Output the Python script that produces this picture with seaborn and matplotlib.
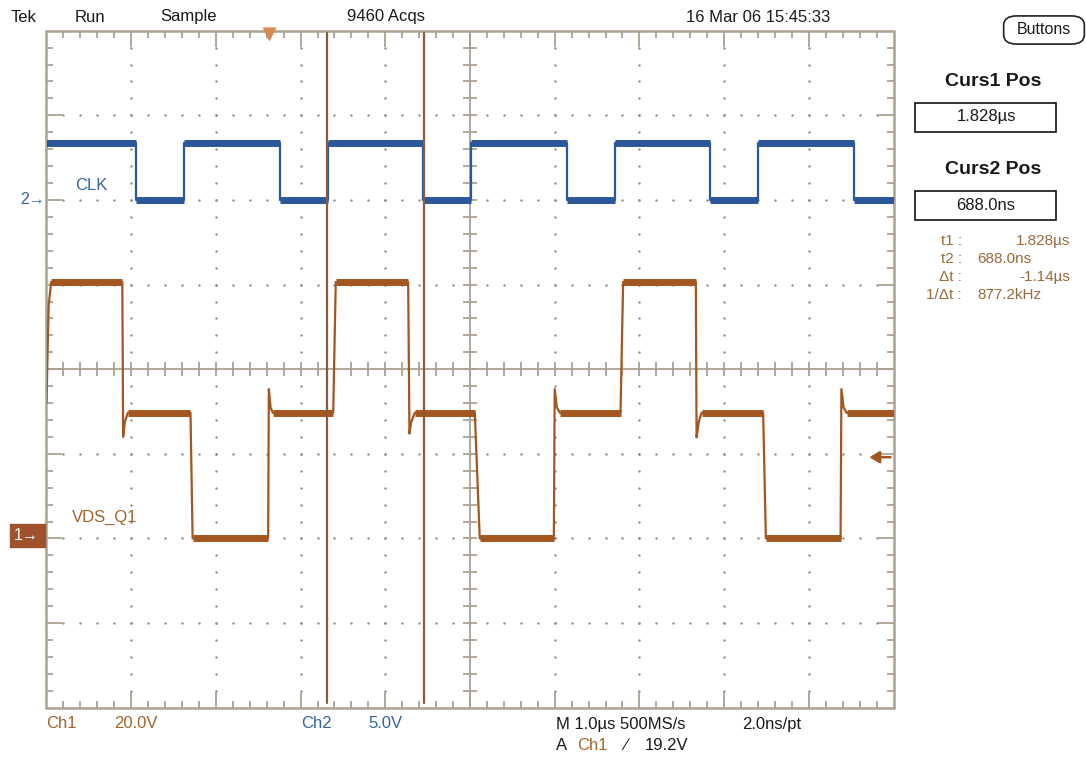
import numpy as np
import pandas as pd
import matplotlib
matplotlib.use("Agg")
import matplotlib.pyplot as plt
import seaborn as sns
from matplotlib.patches import Rectangle, FancyBboxPatch
from matplotlib.collections import LineCollection
from matplotlib import font_manager

# ---------------- data ----------------
# Ch1 : VDS_Q1 trace, time in microseconds relative to trigger, volts
ch1_t_us = [-2.625, -2.60, -2.57,
            -1.730, -1.720, -1.700, -1.665,
            -0.925, -0.900,
            -0.008, 0.000, 0.020, 0.047,
            0.760, 0.790,
            1.645, 1.660, 1.680, 1.724,
            2.432, 2.490,
            3.365, 3.375, 3.400, 3.436,
            4.152, 4.183,
            5.041, 5.050, 5.075, 5.109,
            5.836, 5.868,
            6.750, 6.760, 6.785, 6.821,
            7.375]
ch1_v = [32.0, 55.0, 60.6,
         60.6, 24.0, 27.5, 29.7,
         29.7, 0.0,
         0.0, 35.3, 31.0, 29.7,
         29.7, 60.6,
         60.6, 24.8, 27.5, 29.7,
         29.7, 0.0,
         0.0, 35.3, 31.0, 29.7,
         29.7, 60.6,
         60.6, 23.9, 27.5, 29.7,
         29.7, 0.0,
         0.0, 35.3, 31.0, 29.7,
         29.7]

# Ch2 : CLK trace
clk_t_us = [-2.625, -1.570, -1.570, -0.999, -0.999, 0.130, 0.130, 0.693, 0.693,
            1.822, 1.822, 2.385, 2.385, 3.515, 3.515, 4.085, 4.085, 5.207, 5.207,
            5.770, 5.770, 6.910, 6.910, 7.375]
clk_v = [3.35, 3.35, 0.0, 0.0, 3.35, 3.35, 0.0, 0.0, 3.35,
         3.35, 0.0, 0.0, 3.35, 3.35, 0.0, 0.0, 3.35, 3.35, 0.0,
         0.0, 3.35, 3.35, 0.0, 0.0]

cursor_t_us = [0.688, 1.828]
trigger_level_v = 19.2
ch1_volts_per_div = 20.0
ch2_volts_per_div = 5.0
ch1_ground_div = -2
ch2_ground_div = 2
time_per_div_us = 1.0
screen_left_us = -2.625
n_hdiv = 10
n_vdiv = 8

top_labels = ["Tek", "Run", "Sample", "9460 Acqs", "16 Mar 06 15:45:33"]
meas_labels = ["t1 :", "t2 :", "\u0394t :", "1/\u0394t :"]
meas_values = ["1.828\u00b5s", "688.0ns", "-1.14\u00b5s", "877.2kHz"]

# ---------------- style ----------------
sns.set_theme(style="white")
names = {f.name for f in font_manager.fontManager.ttflist}
base_font = "Liberation Sans" if "Liberation Sans" in names else "DejaVu Sans"
plt.rcParams["font.family"] = [base_font, "DejaVu Sans"]

ORANGE = "#a3561f"
ORANGE_TXT = "#a0642c"
BLUE = "#2b579a"
BLUE_TXT = "#3563a5"
GRAT = "#aaa192"
DOT = "#8c8c8c"
CURSOR = "#8b5a3c"

W, H = 1086, 769
L, R, T, B = 46.5, 893.5, 30.7, 707.7
fig = plt.figure(figsize=(W / 100, H / 100), dpi=100)
fig.patch.set_facecolor("white")
ax = fig.add_axes([L / W, 1 - B / H, (R - L) / W, (B - T) / H])
xmin = screen_left_us
xmax = xmin + n_hdiv * time_per_div_us
ymin, ymax = -n_vdiv / 2, n_vdiv / 2
ax.axis("off")

px_div = (R - L) / n_hdiv  # pixels per division
def p2d(p):
    return p / px_div

# ---------------- graticule ----------------
xc = xmin + n_hdiv / 2 * time_per_div_us
dx, dy = [], []
for k in range(1, n_hdiv):
    xm = xmin + k * time_per_div_us
    if abs(xm - xc) < 1e-9:
        continue
    for j in range(1, n_vdiv * 5):
        dx.append(xm); dy.append(ymin + j * 0.2)
for k in range(1, n_vdiv):
    ym = ymin + k
    if ym == 0:
        continue
    for j in range(1, n_hdiv * 5):
        dx.append(xmin + j * 0.2); dy.append(ym)
ax.scatter(dx, dy, s=3, c=DOT, linewidths=0, zorder=1)

ax.axhline(0, color=GRAT, lw=1.3, zorder=1)
ax.axvline(xc, color=GRAT, lw=1.3, zorder=1)
ax.add_patch(Rectangle((xmin, ymin), xmax - xmin, ymax - ymin, fill=False,
                       ec=GRAT, lw=1.8, zorder=2, clip_on=False))
segs = []
tk = p2d(7)
tkM = p2d(16)
for j in range(1, n_hdiv * 5):
    x = xmin + j * 0.2
    major = (j % 5 == 0)
    segs.append([(x, -tk), (x, tk)])
    ln = tkM if major else tk
    segs.append([(x, ymax), (x, ymax - ln)])
    segs.append([(x, ymin), (x, ymin + ln)])
for j in range(1, n_vdiv * 5):
    y = ymin + j * 0.2
    major = (j % 5 == 0)
    segs.append([(xc - tk, y), (xc + tk, y)])
    ln = tkM if major else tk
    segs.append([(xmin, y), (xmin + ln, y)])
    segs.append([(xmax, y), (xmax - ln, y)])
ax.add_collection(LineCollection(segs, colors=GRAT, linewidths=1.3, zorder=2))

# ---------------- traces ----------------
ax1 = ax.twinx()
ax1.set_ylim((ymin - ch1_ground_div) * ch1_volts_per_div, (ymax - ch1_ground_div) * ch1_volts_per_div)
ax2 = ax.twinx()
ax2.set_ylim((ymin - ch2_ground_div) * ch2_volts_per_div, (ymax - ch2_ground_div) * ch2_volts_per_div)
for a in (ax1, ax2):
    a.axis("off")

df1 = pd.DataFrame({"t": ch1_t_us, "v": ch1_v})
df2 = pd.DataFrame({"t": clk_t_us, "v": clk_v})
sns.lineplot(data=df1, x="t", y="v", ax=ax1, sort=False, estimator=None,
             color=ORANGE, lw=1.6, zorder=3)
sns.lineplot(data=df2, x="t", y="v", ax=ax2, sort=False, estimator=None,
             color=BLUE, lw=1.6, zorder=3)

def flats(ts, vs):
    out = []
    for i in range(len(ts) - 1):
        if vs[i] == vs[i + 1] and ts[i + 1] - ts[i] > 0.05:
            out.append([(ts[i], vs[i]), (ts[i + 1], vs[i + 1])])
    return out

ax1.add_collection(LineCollection(flats(ch1_t_us, ch1_v), colors=ORANGE,
                                  linewidths=5.0, capstyle="butt", zorder=3))
ax2.add_collection(LineCollection(flats(clk_t_us, clk_v), colors=BLUE,
                                  linewidths=5.0, capstyle="butt", zorder=3))

# cursors
for tc in cursor_t_us:
    ax2.axvline(tc, ymin=(B - 703) / (B - T), ymax=(B - 33) / (B - T),
                color=CURSOR, lw=1.6, zorder=10)

# trigger position marker and trigger level arrow
ax.plot([0.0], [ymax - p2d(3.5)], marker="v", ms=10, color="#d98a4e",
        mec="none", clip_on=False, zorder=5)
ax1.annotate("", xy=(7.09, trigger_level_v), xytext=(7.34, trigger_level_v),
             arrowprops=dict(arrowstyle="-|>,head_length=0.5,head_width=0.3",
                             color=ORANGE, lw=1.8, mutation_scale=12,
                             shrinkA=0, shrinkB=0), zorder=6)

for a in (ax, ax1, ax2):
    a.set_xlim(xmin, xmax)
ax.set_ylim(ymin, ymax)

# ---------------- texts ----------------
def ftxt(x, y, s, **kw):
    kw.setdefault("fontsize", 12)
    kw.setdefault("va", "center")
    fig.text(x / W, 1 - y / H, s, **kw)

for x, s in zip([11, 75, 160, 347, 686], top_labels):
    ftxt(x, 17, s, color="#1a1a1a")

ftxt(75, 185, "CLK", color=BLUE_TXT, fontsize=12)
ftxt(72, 517, "VDS_Q1", color=ORANGE_TXT, fontsize=12)
ftxt(20, 200, "2\u2192", color=BLUE_TXT, fontsize=11.5)
fig.patches.append(Rectangle((10 / W, 1 - 547 / H), 35 / W, 23 / H,
                             transform=fig.transFigure, color="#a0522d", zorder=5))
ftxt(14, 536, "1\u2192", color="white", fontsize=11.5, zorder=6)

# bottom readout
ftxt(46, 724, "Ch1", color=ORANGE_TXT)
ftxt(114, 724, "20.0V", color=ORANGE_TXT)
ftxt(301, 724, "Ch2", color=BLUE_TXT)
ftxt(368, 724, "5.0V", color=BLUE_TXT)
ftxt(556, 724, "M 1.0\u00b5s 500MS/s", color="#1a1a1a")
ftxt(742, 724, "2.0ns/pt", color="#1a1a1a")
ftxt(556, 746, "A", color="#1a1a1a")
ftxt(577, 746, "Ch1", color=ORANGE_TXT)
ftxt(624, 746, "\u2215", color="#1a1a1a")
ftxt(645, 746, "19.2V", color="#1a1a1a")

# right panel
fig.patches.append(FancyBboxPatch((1008 / W, 1 - 41 / H), 72 / W, 22 / H,
                                  boxstyle="round,pad=0.004,rounding_size=0.012",
                                  transform=fig.transFigure, fill=False,
                                  ec="#222222", lw=1.2))
ftxt(1044, 30, "Buttons", color="#1a1a1a", ha="center", fontsize=11.5)

ftxt(993, 81, "Curs1 Pos", color="#1a1a1a", ha="center", fontsize=14, fontweight="bold")
fig.patches.append(Rectangle((915 / W, 1 - 132 / H), 141 / W, 29 / H,
                             transform=fig.transFigure, fill=False, ec="#111111", lw=1.2))
ftxt(986, 117, meas_values[0], color="#1a1a1a", ha="center", fontsize=12)

ftxt(993, 169, "Curs2 Pos", color="#1a1a1a", ha="center", fontsize=14, fontweight="bold")
fig.patches.append(Rectangle((915 / W, 1 - 220 / H), 141 / W, 29 / H,
                             transform=fig.transFigure, fill=False, ec="#111111", lw=1.2))
ftxt(986, 205, meas_values[1], color="#1a1a1a", ha="center", fontsize=12)

MEAS = "#9a6a3c"
ys = [241, 259, 277, 295]
for y, lab in zip(ys, meas_labels):
    ftxt(962, y, lab, color=MEAS, ha="right", fontsize=11)
ftxt(1070, ys[0], meas_values[0], color=MEAS, ha="right", fontsize=11)
ftxt(977, ys[1], meas_values[1], color=MEAS, ha="left", fontsize=11)
ftxt(1070, ys[2], meas_values[2], color=MEAS, ha="right", fontsize=11)
ftxt(977, ys[3], meas_values[3], color=MEAS, ha="left", fontsize=11)

fig.savefig("out.png", dpi=100, facecolor="white")
